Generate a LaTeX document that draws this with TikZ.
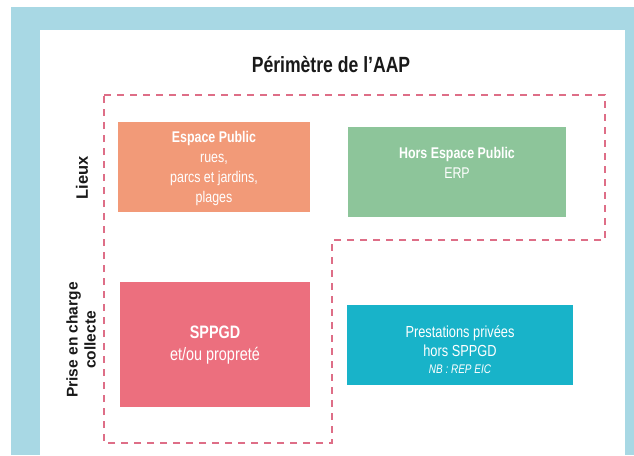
\documentclass[tikz,border=0pt]{standalone}
\usepackage{fontspec}
\setmainfont{Liberation Sans}
\newfontfamily\narrow[FakeStretch=0.8]{Liberation Sans}
\definecolor{frameblue}{RGB}{168,216,228}
\definecolor{orangebox}{RGB}{242,154,120}
\definecolor{greenbox}{RGB}{141,197,154}
\definecolor{pinkbox}{RGB}{236,111,126}
\definecolor{tealbox}{RGB}{24,179,201}
\definecolor{dashred}{RGB}{222,110,135}
\definecolor{titlegray}{RGB}{25,25,25}
\begin{document}
\begin{tikzpicture}[x=1pt,y=-1pt,
  colbox/.style={draw=none,inner sep=0pt,minimum width=#1},
  boxtext/.style={text=white,align=center,inner sep=0pt,font=\narrow\fontsize{15.5}{20}\selectfont},
  sidelabel/.style={rotate=90,align=center,inner sep=0pt,text=titlegray,font=\bfseries\fontsize{15.5}{18}\selectfont},
  perim/.style={draw=dashred,line width=1.6pt,dash pattern=on 7pt off 6pt}]
\useasboundingbox (0,0) rectangle (634,455);
\fill[white] (0,0) rectangle (634,455);
\fill[frameblue] (11,7) rectangle (634,455);
\fill[white] (40,30) rectangle (625,455);
% title
\node[inner sep=0pt,text=titlegray,font=\narrow\bfseries\fontsize{22}{24}\selectfont] (title) at (331,65) {Périmètre de l’AAP};
% dashed perimeter
\coordinate (p1) at (104,95);
\coordinate (p2) at (605,95);
\coordinate (p3) at (605,240);
\coordinate (p4) at (332,240);
\coordinate (p5) at (332,443);
\coordinate (p6) at (104,443);
\draw[perim] (p1) -- (p2) -- (p3) -- (p4) -- (p5) -- (p6) -- cycle;
% boxes
\node[colbox=192pt,minimum height=90pt,fill=orangebox] (ep) at (214,167) {};
\node[colbox=218pt,minimum height=90pt,fill=greenbox] (hep) at (457,172) {};
\node[colbox=190pt,minimum height=125pt,fill=pinkbox] (sp) at (215,344.5) {};
\node[colbox=226pt,minimum height=80pt,fill=tealbox] (pp) at (460,345) {};
% box texts
\node[boxtext] (eptxt) at (214,168) {\textbf{Espace Public}\\rues,\\parcs et jardins,\\plages};
\node[boxtext] (heptxt) at (457,163) {\textbf{Hors Espace Public}\\ERP};
\node[boxtext,font=\narrow\fontsize{18}{22}\selectfont] (sptxt) at (215,345) {\textbf{SPPGD}\\et/ou propreté};
\node[boxtext,font=\narrow\fontsize{16}{19}\selectfont] (pptxt) at (460,350) {Prestations privées\\hors SPPGD\\[-2pt]{\fontsize{12.5}{13}\selectfont\itshape NB : REP EIC}};
% side labels
\node[sidelabel,font=\bfseries\fontsize{16.5}{18}\selectfont] (lieux) at (82,178) {Lieux};
\node[sidelabel] (prise) at (81,340) {Prise en charge\\collecte};
\end{tikzpicture}
\end{document}
